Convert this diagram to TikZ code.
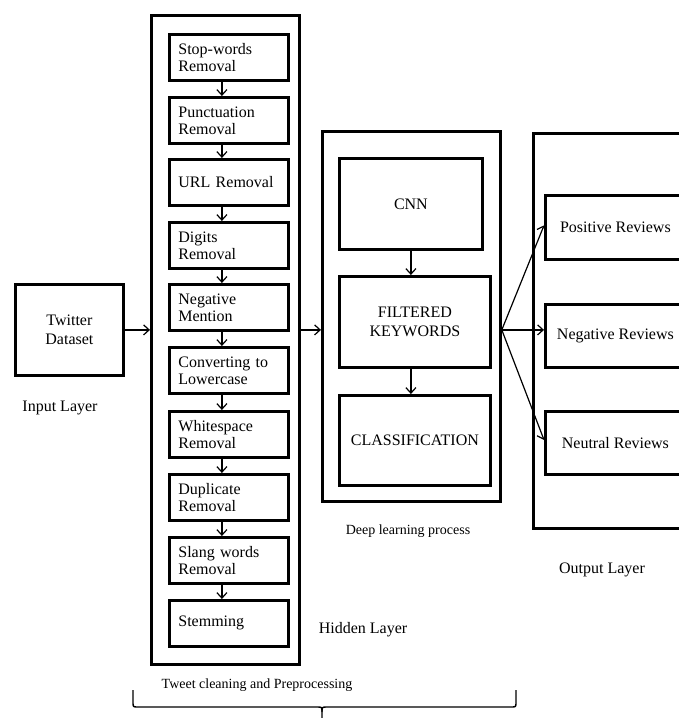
\documentclass[tikz,border=0pt]{standalone}
\usepackage{fontspec}
\setmainfont{Liberation Serif}
\newfontfamily\diagfont{Liberation Serif}
\usetikzlibrary{arrows.meta}
\begin{document}
\begin{tikzpicture}[x=1pt,y=-1pt,
  frame/.style={draw, line width=2.8pt, inner sep=0pt, anchor=north west},
  pbox/.style={draw, line width=2.8pt, minimum width=119pt, minimum height=46pt, anchor=north west, text width=101pt, align=left, inner sep=0pt, font=\diagfont\fontsize{16}{17}\selectfont},
  cbox/.style={draw, line width=2.8pt, anchor=north west, align=center, inner sep=0pt, font=\diagfont\fontsize{16}{19}\selectfont},
  lbl/.style={font=\diagfont\fontsize{16}{18}\selectfont, inner sep=0pt},
  slbl/.style={font=\diagfont\fontsize{14}{16}\selectfont, inner sep=0pt},
  arr/.style={-{Straight Barb[length=5.5pt,width=10pt]}, line width=1.2pt},
  brace/.style={line width=1.4pt}
]
\useasboundingbox (0,0) rectangle (679,718);

% Input layer
\node[cbox, minimum width=108pt, minimum height=91pt] (tw) at (14,283) {Twitter\\Dataset};
\node[lbl] (inl) at (60,408) {Input Layer};

% Hidden layer
\node[frame, minimum width=148pt, minimum height=649pt] (hid) at (150,14) {};
\node[pbox] (p1) at (168,33) {Stop-words\\Removal};
\node[pbox] (p2) at (168,96) {Punctuation\\Removal};
\node[pbox] (p3) at (168,158) {URL Removal};
\node[pbox] (p4) at (168,221) {Digits\\Removal};
\node[pbox] (p5) at (168,283) {Negative\\Mention};
\node[pbox] (p6) at (168,346) {Converting to\\Lowercase};
\node[pbox] (p7) at (168,410) {Whitespace\\Removal};
\node[pbox] (p8) at (168,473) {Duplicate\\Removal};
\node[pbox] (p9) at (168,536) {Slang words\\Removal};
\node[pbox] (p10) at (168,599) {Stemming};
\node[lbl] (hidl) at (363,630) {Hidden Layer};
\node[slbl] (tcl) at (257,685) {Tweet cleaning and Preprocessing};

\foreach \a/\b in {p1/p2,p2/p3,p3/p4,p4/p5,p5/p6,p6/p7,p7/p8,p8/p9,p9/p10}{
  \draw[arr] ([xshift=-7pt]\a.south) -- ([xshift=-7pt]\b.north);
}

% Deep learning
\node[frame, minimum width=178pt, minimum height=370pt] (deep) at (321,130) {};
\node[cbox, minimum width=143pt, minimum height=91pt] (cnn) at (338,157) {CNN};
\node[cbox, minimum width=151pt, minimum height=91pt] (filt) at (338,275) {FILTERED\\KEYWORDS};
\node[cbox, minimum width=151pt, minimum height=90pt] (cls) at (338,394) {CLASSIFICATION};
\node[slbl] (dlp) at (408,531) {Deep learning process};
\draw[arr] (cnn.south) -- (cnn.south |- filt.north);
\draw[arr] (cnn.south |- filt.south) -- (cnn.south |- cls.north);

% Output layer
\node[frame, minimum width=156pt, minimum height=395pt] (out) at (532,132) {};
\node[cbox, minimum width=140pt, minimum height=64pt] (pos) at (544,194) {Positive Reviews};
\node[cbox, minimum width=140pt, minimum height=63pt] (neg) at (544,303) {Negative Reviews};
\node[cbox, minimum width=140pt, minimum height=63pt] (neu) at (544,410) {Neutral Reviews};
\node[lbl] (outl) at (602,570) {Output Layer};

% Connectors
\coordinate (mid) at (tw.east);
\draw[arr] (tw.east) -- (tw.east -| hid.west);
\draw[arr] (hid.east |- mid) -- (deep.west |- mid);
\coordinate (fan) at (deep.east |- mid);
\draw[arr] (fan) -- ([yshift=2pt]pos.west);
\draw[arr] (fan) -- (fan -| neg.west);
\draw[arr] (fan) -- ([yshift=3pt]neu.west);

% Brace
\coordinate (bl) at (133,690);
\coordinate (br) at (516,690);
\coordinate (bt) at (322,718);
\draw[brace] (bl) -- (133,702) .. controls (133,707) .. (138,707) -- (317,707) .. controls (322,707) .. (322,712) -- (bt);
\draw[brace] (322,712) .. controls (322,707) .. (327,707) -- (511,707) .. controls (516,707) .. (516,702) -- (br);
\end{tikzpicture}
\end{document}
